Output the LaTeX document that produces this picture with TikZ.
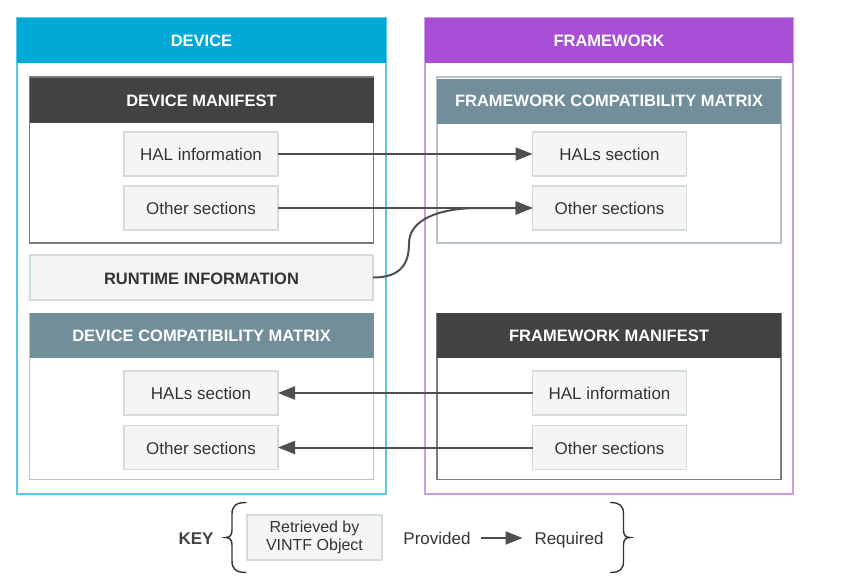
\documentclass[tikz,border=0pt]{standalone}
\usepackage{fontspec}
\setmainfont{Liberation Sans}
\usetikzlibrary{arrows.meta}

\definecolor{devblue}{HTML}{00A9D6}
\definecolor{devline}{HTML}{5CC6E6}
\definecolor{fwpurple}{HTML}{A94FD5}
\definecolor{fwline}{HTML}{C99CE6}
\definecolor{mfdark}{HTML}{424242}
\definecolor{mfline}{HTML}{7A7A7A}
\definecolor{cmgrey}{HTML}{718E9A}
\definecolor{cmline}{HTML}{B6C4CA}
\definecolor{secfill}{HTML}{F5F5F5}
\definecolor{secline}{HTML}{D3DCDA}
\definecolor{txtgrey}{HTML}{333333}
\definecolor{arrgrey}{HTML}{4F4F4F}

\tikzset{
  txt/.style={font=\fontsize{17}{20}\selectfont, text=txtgrey, text height=14.5pt, text depth=1.5pt},
  headtxt/.style={font=\bfseries\fontsize{16.5}{19}\selectfont, text=white},
  container/.style={draw, line width=1.4pt, minimum width=#1, minimum height=476},
  frame/.style={draw, line width=1.4pt, minimum width=344, minimum height=166},
  header/.style={headtxt, minimum height=45},
  section/.style={txt, draw=secline, fill=secfill, line width=1.2pt,
    minimum width=154, minimum height=44},
  conn/.style={draw=arrgrey, line width=2pt,
    -{Triangle[length=17pt, width=13pt]}},
  bracket/.style={draw=txtgrey, line width=1.4pt, line cap=round}
}

\begin{document}
\begin{tikzpicture}[x=1pt, y=-1pt, every node/.style={inner sep=0, outer sep=0}]
  \useasboundingbox (0,0) rectangle (862,581);

  % device and framework columns
  \node[container=369, draw=devline] (dev) at (201.5,256) {};
  \node[header, fill=devblue, minimum width=369] (devhead) at (201.5,40.5) {DEVICE};
  \node[container=368, draw=fwline] (fw) at (609,256) {};
  \node[header, fill=fwpurple, minimum width=368] (fwhead) at (609,40.5) {FRAMEWORK};

  % manifests and matrices
  \node[frame, draw=mfline] (dm) at (201.5,160) {};
  \node[header, fill=mfdark, minimum width=344] (dmhead) at (201.5,100.5) {DEVICE MANIFEST};
  \node[frame, draw=cmline] (fc) at (609,160) {};
  \node[header, fill=cmgrey, minimum width=344] (fchead) at (609,101) {FRAMEWORK COMPATIBILITY MATRIX};
  \node[frame, draw=cmline] (dc) at (201.5,396.5) {};
  \node[header, fill=cmgrey, minimum width=344] (dchead) at (201.5,335.5) {DEVICE COMPATIBILITY MATRIX};
  \node[frame, draw=mfline] (fm) at (609,396.5) {};
  \node[header, fill=mfdark, minimum width=344] (fmhead) at (609,335.5) {FRAMEWORK MANIFEST};

  \node[section, minimum width=343, minimum height=45, font=\bfseries\fontsize{16.5}{19}\selectfont]
    (rt) at (201.5,277.5) {RUNTIME INFORMATION};

  % sections
  \foreach \n/\x/\y/\t in {dmhal/201/154/HAL information, dmoth/201/208/Other sections,
                          fchal/609.5/154/HALs section, fcoth/609.5/208/Other sections,
                          dchal/201/393/HALs section, dcoth/201/447.5/Other sections,
                          fmhal/609.5/393/HAL information, fmoth/609.5/447.5/Other sections}
    {
      \node[section] (\n) at (\x,\y) {\t};
    }

  % connectors
  \draw[conn] (dmhal.east) -- (fchal.west);
  \draw[conn] (dmoth.east) -- (fcoth.west);
  \draw[conn] (rt.east) .. controls +(28,0) and +(0,20) .. ++(36,-34)
    .. controls +(0,-24) and +(-40,0) .. ++(70,-35.5) -- (fcoth.west);
  \draw[conn] (fmhal.west) -- (dchal.east);
  \draw[conn] (fmoth.west) -- (dcoth.east);

  % key
  \node[txt, font=\bfseries\fontsize{17}{20}\selectfont, text=mfdark] (key) at (196,538) {KEY};
  \draw[bracket] (246,502.5) .. controls (236,502.5) and (232,506) .. (232,514) -- (232,530)
    .. controls (232,535) and (230,537.5) .. (225.5,537.5)
    .. controls (230,537.5) and (232,540) .. (232,545) -- (232,561)
    .. controls (232,569) and (236,572.5) .. (246,572.5);
  \node[section, minimum width=135, minimum height=45, align=center,
    font=\fontsize{16}{18.5}\selectfont, text height=, text depth=] (vintf) at (314.5,537.5) {Retrieved by\\VINTF Object};
  \node[txt] (prov) at (437,538) {Provided};
  \node[txt] (req) at (569,538) {Required};
  \draw[conn, shorten <=10pt, shorten >=12pt] (prov.east) -- (req.west);
  \draw[bracket] (610.5,502.5) .. controls (620,502.5) and (623.5,506) .. (623.5,514) -- (623.5,530)
    .. controls (623.5,535) and (625.5,537.5) .. (630,537.5)
    .. controls (625.5,537.5) and (623.5,540) .. (623.5,545) -- (623.5,561)
    .. controls (623.5,569) and (620,572.5) .. (610.5,572.5);
\end{tikzpicture}
\end{document}
